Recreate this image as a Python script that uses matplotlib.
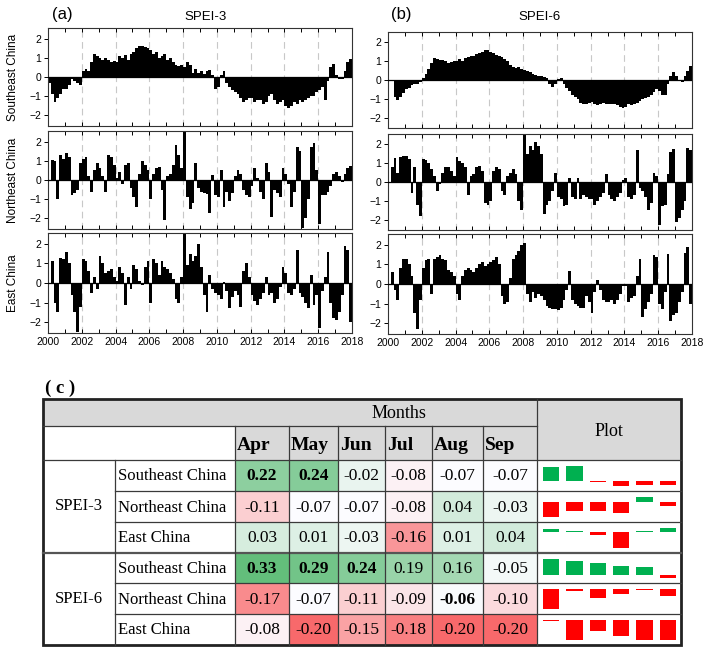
import numpy as np
import matplotlib
matplotlib.use('Agg')
import matplotlib.pyplot as plt
from matplotlib.patches import Rectangle
from matplotlib.ticker import MultipleLocator

plt.rcParams['font.family'] = ['Liberation Sans', 'DejaVu Sans']

W, H = 708, 648

# ─────────────────────────────────────────────────────────────────────────
# Time series: bimonthly SPEI values, six per year, 2000-2017
# ─────────────────────────────────────────────────────────────────────────
se_spei3 = [
    [-0.3, -0.9, -1.3, -1.1, -0.9, -0.6],
    [-0.6, -0.4, -0.1, -0.2, -0.3, -0.4],
    [0.3, 0.4, 0.3, 0.8, 1.2, 1.1],
    [1.0, 0.9, 1.0, 0.9, 0.8, 0.85],
    [0.8, 1.1, 1.0, 1.15, 0.9, 1.2],
    [1.3, 1.5, 1.6, 1.6, 1.55, 1.5],
    [1.4, 1.2, 1.3, 1.0, 1.1, 1.2],
    [0.9, 1.0, 0.8, 0.6, 0.55, 0.6],
    [0.5, 0.8, 0.6, 0.2, 0.4, 0.2],
    [0.3, 0.15, 0.3, 0.35, 0.1, -0.6],
    [-0.5, 0.1, 0.3, -0.3, -0.5, -0.7],
    [-0.8, -0.9, -1.1, -1.3, -1.2, -1.1],
    [-1.1, -1.3, -1.2, -1.2, -1.4, -1.3],
    [-1.0, -0.9, -1.2, -1.4, -1.3, -1.2],
    [-1.5, -1.6, -1.5, -1.3, -1.4, -1.2],
    [-1.3, -1.2, -1.1, -1.0, -1.0, -0.8],
    [-0.7, -0.5, -1.2, -0.2, 0.5, 0.7],
    [0.1, -0.1, -0.1, 0.3, 0.8, 0.95],
]
ne_spei3 = [
    [0.0, 1.05, 1.0, -1.0, 1.3, 1.1],
    [1.4, 1.2, -0.8, -0.7, -0.5, 0.9],
    [1.1, 1.2, 0.2, -0.6, 0.5, 0.9],
    [0.6, 0.2, -0.6, 1.3, 1.2, 0.8],
    [0.1, 0.4, -0.2, 0.8, 0.9, -0.4],
    [-0.9, -1.4, 0.3, 1.0, 0.8, 0.5],
    [-1.0, 0.3, 0.6, 0.7, -0.5, -2.1],
    [0.2, 0.3, 0.8, 1.8, 1.3, 0.6],
    [2.6, -0.9, -1.5, -1.2, 0.9, -0.4],
    [-0.6, -0.7, -0.75, -1.7, 0.25, -0.8],
    [-0.9, 0.5, -1.4, -0.6, -1.1, -0.7],
    [0.2, 0.5, 0.3, -0.5, -0.8, -0.9],
    [-0.3, 0.6, 0.1, -0.6, -1.0, 0.9],
    [0.4, -1.9, -0.5, -0.7, -0.9, 0.6],
    [0.3, -0.2, -1.4, -0.6, 1.7, 1.5],
    [-2.5, -2.0, -1.0, 1.7, 1.9, 0.5],
    [-2.3, -0.8, -0.8, -0.6, -0.3, 0.3],
    [0.4, 0.2, -0.1, 0.3, 0.6, 0.75],
]
ea_spei3 = [
    [0.0, 1.1, -1.0, -1.5, 1.3, 1.2],
    [1.6, 1.0, -0.6, -1.5, -2.5, -1.2],
    [1.2, 1.1, 0.6, -0.5, 0.3, -0.3],
    [1.4, 1.0, 0.5, 0.6, 0.7, 0.3],
    [0.1, 0.8, 0.5, -1.1, 0.3, -0.3],
    [0.9, 0.7, 0.1, -0.1, 0.8, 1.1],
    [-1.0, 1.2, 1.0, 0.4, 1.1, 0.8],
    [0.7, 0.5, 0.2, -0.8, -1.0, 0.3],
    [2.6, 0.9, 1.5, 1.1, 1.4, 2.0],
    [0.8, -0.6, -1.5, 0.4, -0.3, -0.5],
    [-0.6, -0.8, 0.05, -0.4, -1.3, -0.7],
    [-0.4, -0.6, -1.2, 0.6, 1.0, 0.3],
    [-0.6, -0.9, -1.1, -0.8, -0.5, 0.3],
    [-0.6, -0.5, -1.0, -0.8, -0.2, 0.8],
    [0.5, -0.5, -0.6, -0.3, 1.7, -0.5],
    [-0.7, -1.0, -1.3, 0.4, -1.1, -0.6],
    [-2.3, -0.4, 0.3, 1.6, -1.0, -1.8],
    [-1.9, -1.5, -0.6, 1.9, 1.7, -2.0],
]
se_spei6 = [
    [0.0, 0.0, -0.9, -1.05, -0.9, -0.7],
    [-0.5, -0.4, -0.25, -0.2, -0.2, -0.1],
    [0.1, 0.3, 0.6, 0.9, 1.15, 1.1],
    [1.05, 1.05, 1.0, 0.9, 0.95, 1.0],
    [1.0, 1.1, 1.0, 1.15, 1.2, 1.3],
    [1.3, 1.4, 1.45, 1.5, 1.6, 1.6],
    [1.5, 1.45, 1.35, 1.3, 1.2, 1.1],
    [1.0, 0.8, 0.7, 0.65, 0.7, 0.6],
    [0.55, 0.5, 0.4, 0.3, 0.25, 0.2],
    [0.2, 0.15, 0.1, -0.2, -0.35, -0.2],
    [0.05, 0.1, -0.2, -0.4, -0.6, -0.8],
    [-0.9, -1.0, -1.2, -1.3, -1.25, -1.2],
    [-1.15, -1.25, -1.35, -1.3, -1.2, -1.3],
    [-1.3, -1.25, -1.3, -1.35, -1.45, -1.5],
    [-1.45, -1.3, -1.35, -1.25, -1.2, -1.1],
    [-1.0, -0.95, -0.9, -0.8, -0.65, -0.5],
    [-0.6, -0.8, -0.8, -0.2, 0.2, 0.4],
    [0.2, -0.05, -0.1, 0.2, 0.5, 0.75],
]
ne_spei6 = [
    [0.0, 0.8, 1.3, 0.5, 1.35, 1.4],
    [1.4, 1.2, -0.6, 0.8, -1.2, -1.8],
    [1.2, 1.15, 1.0, 0.7, 0.3, -0.5],
    [-0.1, 0.5, 0.8, 0.8, 0.6, 0.3],
    [1.35, 1.1, 1.0, 0.8, -0.7, 0.3],
    [0.4, 0.8, 0.85, 0.6, -1.1, -1.2],
    [-1.0, 0.6, 0.8, 0.7, -0.5, -0.7],
    [0.3, 0.5, 0.7, 0.4, -1.0, -1.5],
    [2.6, 1.5, 1.9, 1.7, 2.1, 1.9],
    [1.5, -1.7, -1.2, -1.0, -0.5, 0.5],
    [-0.8, -0.9, -1.3, -1.2, 0.2, -0.8],
    [-0.9, 0.2, -0.9, -0.7, -0.8, -0.9],
    [-0.9, -1.2, -1.0, -0.8, -0.6, 0.4],
    [-0.7, -0.9, -1.0, -0.8, -0.6, 0.1],
    [0.2, -0.8, -0.9, -0.7, 1.7, -0.3],
    [-0.5, -0.8, -1.5, -1.1, 0.5, 0.3],
    [-2.3, -1.3, -1.2, 0.4, 1.6, 1.75],
    [-2.1, -1.9, -1.5, -1.0, 1.8, 1.7],
]
ea_spei6 = [
    [0.0, 0.6, -0.3, -0.8, 0.8, 1.3],
    [1.3, 1.0, 0.4, -1.5, -2.3, -0.8],
    [0.8, 1.2, 1.3, -0.5, 1.3, 1.4],
    [1.5, 1.3, 1.2, 0.7, 0.6, 0.4],
    [-0.5, -0.8, 0.4, 0.7, 0.8, 0.7],
    [0.6, 0.8, 1.0, 1.1, 0.9, 1.0],
    [1.1, 1.2, 1.4, 1.0, -0.6, -1.0],
    [-0.9, 0.3, 1.3, 1.5, 1.7, 2.0],
    [2.1, -0.5, -0.9, -0.4, -0.7, -0.5],
    [-0.6, -0.8, -1.1, -1.2, -1.3, -1.3],
    [-1.35, -1.2, -0.8, -0.3, 0.65, -0.8],
    [-1.0, -1.1, -1.2, -1.2, -0.6, -0.9],
    [-1.5, -0.4, 0.2, -0.3, -0.8, -0.9],
    [-0.9, -0.8, -1.0, -0.8, -0.5, -0.1],
    [-0.1, -0.9, -0.7, -0.6, 0.4, 1.3],
    [-1.7, -1.3, -0.9, -0.5, 1.5, 1.4],
    [-1.0, -1.3, -0.4, 1.55, -1.9, -1.6],
    [-1.5, -0.9, -0.4, 1.6, 1.9, -1.0],
]

# ─────────────────────────────────────────────────────────────────────────
# Table: correlation by month
# ─────────────────────────────────────────────────────────────────────────
regions = ['Southeast China', 'Northeast China', 'East China']
scales = ['SPEI-3', 'SPEI-6']
months = ['Apr', 'May', 'Jun', 'Jul', 'Aug', 'Sep']
corr = [
    [0.22, 0.24, -0.02, -0.08, -0.07, -0.07],
    [-0.11, -0.07, -0.07, -0.08, 0.04, -0.03],
    [0.03, 0.01, -0.03, -0.16, 0.01, 0.04],
    [0.33, 0.29, 0.24, 0.19, 0.16, -0.05],
    [-0.17, -0.07, -0.11, -0.09, -0.06, -0.10],
    [-0.08, -0.20, -0.15, -0.18, -0.20, -0.20],
]
bold = [
    [1, 1, 0, 0, 0, 0],
    [0, 0, 0, 0, 0, 0],
    [0, 0, 0, 0, 0, 0],
    [1, 1, 1, 0, 0, 0],
    [0, 0, 0, 0, 1, 0],
    [0, 0, 0, 0, 0, 0],
]


def px_axes(fig, x0, y0, x1, y1):
    return fig.add_axes([x0 / W, 1 - y1 / H, (x1 - x0) / W, (y1 - y0) / H])


fig = plt.figure(figsize=(W / 100, H / 100), dpi=100)
tab = fig.add_axes([0, 0, 1, 1])
tab.set_xlim(0, W)
tab.set_ylim(H, 0)
tab.axis('off')

# ---- top: time series panels ----
edges = 2000 + np.arange(18 * 6 + 1) / 6.0
columns = [
    (48, 352, [(28, 126), (131, 229), (233, 333)], [se_spei3, ne_spei3, ea_spei3]),
    (388, 692, [(32, 128), (134, 230), (234, 334)], [se_spei6, ne_spei6, ea_spei6]),
]
for ci, (x0, x1, rows, series) in enumerate(columns):
    for ri, ((y0, y1), vals) in enumerate(zip(rows, series)):
        ax = px_axes(fig, x0, y0, x1, y1)
        for yr in range(2002, 2018, 2):
            ax.axvline(yr, color='#c8c8c8', ls=(0, (6, 4)), lw=0.8, zorder=0)
        ax.stairs(np.ravel(vals), edges, baseline=0, fill=True, color='black', zorder=2)
        ax.axhline(0, color='black', lw=0.9, zorder=3)
        ax.set_xlim(2000, 2018)
        ax.set_ylim(-2.55, 2.55)
        ax.set_yticks([-2, -1, 0, 1, 2])
        ax.xaxis.set_major_locator(MultipleLocator(2))
        ax.xaxis.set_minor_locator(MultipleLocator(1))
        ax.tick_params(axis='x', which='both', direction='in', top=True, length=3,
                       width=0.7, labelsize=7.5, labelbottom=(ri == 2), pad=3)
        ax.tick_params(axis='y', direction='out', length=3, width=0.7, labelsize=7.5, pad=2)
        for s in ax.spines.values():
            s.set_linewidth(0.8)
            s.set_color('#333333')
        if ci == 0:
            ax.set_ylabel(regions[ri], fontsize=8.5)
            ax.yaxis.set_label_coords(-0.095, 0.5)

fig.text(52 / W, 1 - 15 / H, '(a)', fontsize=12, va='center', ha='left')
fig.text(206 / W, 1 - 17 / H, 'SPEI-3', fontsize=9.5, va='center', ha='center')
fig.text(391 / W, 1 - 15 / H, '(b)', fontsize=12, va='center', ha='left')
fig.text(540 / W, 1 - 17 / H, 'SPEI-6', fontsize=9.5, va='center', ha='center')

# ---- bottom: table (c) ----
serif = 'Liberation Serif'
grey = '#d9d9d9'
line_c = '#3a3a3a'
left, split_x, right, top, head_y = 43, 115, 681, 399, 426
col_edges = [235, 289, 338, 385, 432, 483, 537]
row_edges = [460, 491, 522, 553, 583, 614, 645]

tab.text(45, 388, '( c )', fontsize=13.5, fontweight='bold', family=serif, va='center', ha='left')

tab.add_patch(Rectangle((left, top), col_edges[-1] - left, head_y - top, fc=grey, ec='none'))
tab.add_patch(Rectangle((col_edges[-1], top), right - col_edges[-1], row_edges[0] - top,
                        fc=grey, ec='none'))
for i, m in enumerate(months):
    tab.add_patch(Rectangle((col_edges[i], head_y), col_edges[i + 1] - col_edges[i],
                            row_edges[0] - head_y, fc=grey, ec='none'))
    tab.text(col_edges[i] + 2, 446, m, fontsize=14, fontweight='bold', family=serif,
             va='center', ha='left')
tab.text(399, 413, 'Months', fontsize=13, family=serif, va='center', ha='center')
tab.text((col_edges[-1] + right) / 2, 431, 'Plot', fontsize=13, family=serif,
         va='center', ha='center')

# colour scale (green-white-red, midpoint at median)
flat = np.ravel(corr)
lo, mid, hi = flat.min(), np.median(flat), flat.max()
c_white = np.array([252, 252, 255]) / 255
c_green = np.array([99, 190, 123]) / 255
c_red = np.array([248, 105, 107]) / 255


def cell_color(v):
    if v >= mid:
        f = (v - mid) / (hi - mid)
        return c_white + f * (c_green - c_white)
    f = (mid - v) / (mid - lo)
    return c_white + f * (c_red - c_white)


for r, vals in enumerate(corr):
    ytop, ybot = row_edges[r], row_edges[r + 1]
    yc = (ytop + ybot) / 2 + 1
    tab.text(split_x + 3, yc, regions[r % 3], fontsize=12, family=serif, va='center', ha='left')
    for c, v in enumerate(vals):
        tab.add_patch(Rectangle((col_edges[c], ytop), col_edges[c + 1] - col_edges[c],
                                ybot - ytop, fc=cell_color(v), ec='none'))
        tab.text((col_edges[c] + col_edges[c + 1]) / 2, yc, f'{v:.2f}', fontsize=12.5,
                 family=serif, fontweight='bold' if bold[r][c] else 'normal',
                 va='center', ha='center')

for g, name in enumerate(scales):
    tab.text((left + split_x) / 2, (row_edges[3 * g] + row_edges[3 * g + 3]) / 2, name,
             fontsize=12, family=serif, va='center', ha='center')

# grid lines
tab.plot([left, col_edges[-1]], [head_y, head_y], color=line_c, lw=0.9)
tab.plot([left, right], [row_edges[0], row_edges[0]], color=line_c, lw=0.9)
for k, y in enumerate(row_edges[1:-1], start=1):
    if k == 3:
        tab.plot([left, right], [y, y], color='#555555', lw=1.6)
    else:
        tab.plot([split_x, right], [y, y], color=line_c, lw=0.9)
tab.plot([split_x, split_x], [row_edges[0], row_edges[-1]], color=line_c, lw=0.9)
for x in col_edges[:-1]:
    tab.plot([x, x], [head_y, row_edges[-1]], color=line_c, lw=0.9)
tab.plot([col_edges[-1], col_edges[-1]], [top, row_edges[-1]], color=line_c, lw=0.9)
tab.add_patch(Rectangle((left, top), right - left, row_edges[-1] - top, fc='none',
                        ec='#222222', lw=2.0))

# sparkline columns in the Plot cell
for r, vals in enumerate(corr):
    ytop, ybot = row_edges[r], row_edges[r + 1]
    sax = px_axes(fig, 539.5, ytop + 5.5, 679.5, ybot - 5)
    v = np.array(vals)
    if np.all(v <= 0):
        ref = v.max()
    elif np.all(v >= 0):
        ref = v.min()
    else:
        ref = 0.0
    ymin, ymax = min(v.min(), ref), max(v.max(), ref)
    span = ymax - ymin
    h = v - ref
    sign = np.where(v >= 0, 1.0, -1.0)
    h = np.where(np.abs(h) < 0.05 * span, sign * 0.05 * span, h)
    colors = ['#00b050' if x > 0 else '#ff0000' for x in v]
    sax.bar(np.arange(6), h, bottom=ref, width=0.7, color=colors, linewidth=0)
    sax.set_xlim(-0.5, 5.5)
    sax.set_ylim(ymin - 0.02 * span, ymax + 0.02 * span)
    sax.axis('off')

fig.savefig('out.png', dpi=100)
